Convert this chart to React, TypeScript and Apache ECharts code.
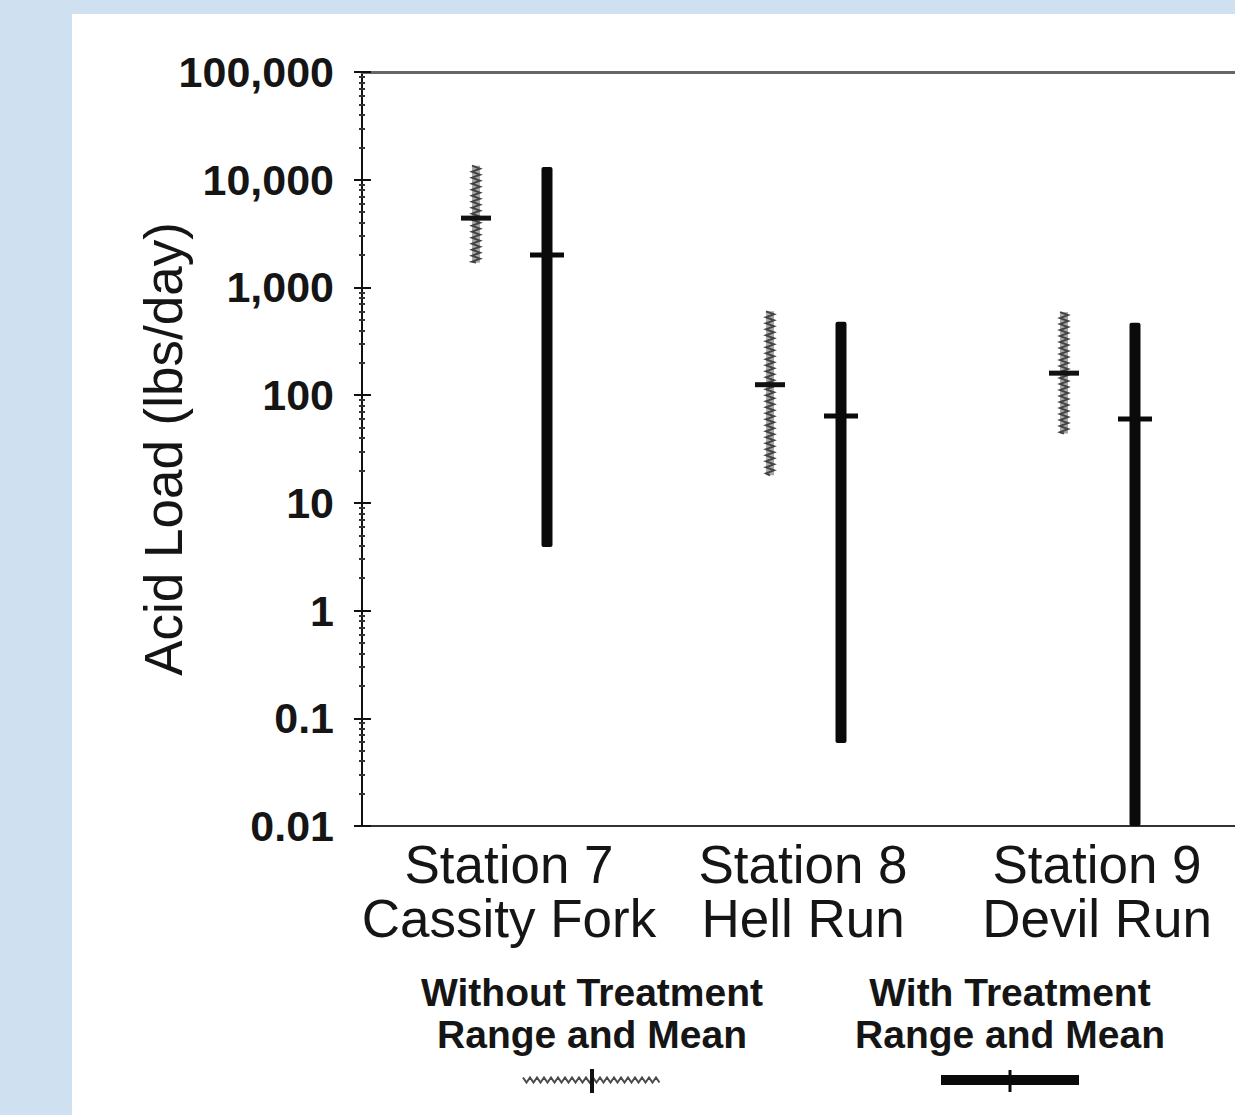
import React, { useEffect, useRef } from "react";
import * as echarts from "echarts";

// ---- data ----
const stations = ["Station 7", "Station 8", "Station 9"];
const streams = ["Cassity Fork", "Hell Run", "Devil Run"];
// [low, high, mean] in lbs/day
const withoutLow = [1700, 18, 44];
const withoutHigh = [13500, 600, 590];
const withoutMean = [4400, 125, 160];
const withLow = [3.9, 0.059, 0.01];
const withHigh = [13100, 480, 470];
const withMean = [2000, 64, 60];
const yTickLabels = ["0.01", "0.1", "1", "10", "100", "1,000", "10,000", "100,000"];
const yMin = 0.01;
const yMax = 100000;

const FONT = "'Liberation Sans', Arial, Helvetica, sans-serif";

function zigzagV(x: number, y1: number, y2: number, amp: number, step: number) {
  const pts: number[][] = [];
  const top = Math.min(y1, y2);
  const bot = Math.max(y1, y2);
  let i = 0;
  for (let y = top; y <= bot; y += step) {
    pts.push([x + (i % 2 === 0 ? -amp : amp), y]);
    i++;
  }
  pts.push([x, bot]);
  return pts;
}

function zigzagH(x1: number, x2: number, y: number, amp: number, step: number) {
  const pts: number[][] = [];
  let i = 0;
  for (let x = x1; x <= x2; x += step) {
    pts.push([x, y + (i % 2 === 0 ? -amp : amp)]);
    i++;
  }
  return pts;
}

export default function App() {
  const ref = useRef<HTMLDivElement>(null);

  useEffect(() => {
    if (!ref.current) return;
    const chart = echarts.init(ref.current, null, { renderer: "svg" });
    const categories = stations.map((s, i) => s + "\n" + streams[i]);

    const withoutData = stations.map((_, i) => [i, withoutLow[i], withoutHigh[i], withoutMean[i]]);
    const withData = stations.map((_, i) => [i, withLow[i], withHigh[i], withMean[i]]);

    const option: any = {
      animation: false,
      grid: { left: 362, top: 72, width: 882, height: 754, containLabel: false },
      xAxis: [
        {
          type: "category",
          data: categories,
          position: "bottom",
          boundaryGap: true,
          axisLine: { lineStyle: { color: "#333", width: 2 } },
          axisTick: { interval: 0, alignWithLabel: true, length: 12, lineStyle: { color: "#111", width: 3 } },
          axisLabel: {
            interval: 0,
            hideOverlap: false,
            fontFamily: FONT,
            fontSize: 53,
            lineHeight: 54,
            color: "#151515",
            margin: 11,
          },
          splitLine: { show: false },
        },
        {
          type: "category",
          data: categories,
          position: "top",
          axisLine: { lineStyle: { color: "#666", width: 3 } },
          axisTick: { show: false },
          axisLabel: { show: false },
          splitLine: { show: false },
        },
      ],
      yAxis: [
        {
          type: "log",
          logBase: 10,
          min: yMin,
          max: yMax,
          position: "left",
          name: "Acid Load (lbs/day)",
          nameLocation: "middle",
          nameGap: 172,
          nameMoveOverlap: false,
          nameTextStyle: { fontFamily: FONT, fontSize: 53, color: "#151515" },
          axisLine: { show: true, lineStyle: { color: "#111", width: 2 } },
          axisTick: { show: true, length: 8, lineStyle: { color: "#111", width: 2 } },
          minorTick: { show: true, splitNumber: 9, length: 3, lineStyle: { color: "#333", width: 2 } },
          axisLabel: {
            fontFamily: FONT,
            fontSize: 43,
            fontWeight: "bold",
            color: "#151515",
            margin: 28,
            formatter: (v: number) => {
              const idx = Math.round(Math.log10(v)) + 2;
              return yTickLabels[idx] ?? "";
            },
          },
          splitLine: { show: false },
        },
        {
          type: "log",
          logBase: 10,
          min: yMin,
          max: yMax,
          position: "left",
          axisLine: { show: false },
          axisTick: { show: true, inside: true, length: 9, lineStyle: { color: "#111", width: 2 } },
          minorTick: { show: true, splitNumber: 9, length: 3, lineStyle: { color: "#333", width: 2 } },
          axisLabel: { show: false },
          splitLine: { show: false },
        },
      ],
      series: [
        {
          name: "Without Treatment",
          type: "custom",
          xAxisIndex: 0,
          yAxisIndex: 0,
          encode: { x: 0, y: [1, 2, 3] },
          data: withoutData,
          renderItem: (params: any, api: any) => {
            const c = api.value(0);
            const lo = api.coord([c, api.value(1)]);
            const hi = api.coord([c, api.value(2)]);
            const mn = api.coord([c, api.value(3)]);
            const x = lo[0] - 33;
            return {
              type: "group",
              children: [
                {
                  type: "rect",
                  shape: { x: x - 4, y: hi[1], width: 8, height: lo[1] - hi[1] },
                  style: { fill: "#a8a8a8" },
                },
                {
                  type: "polyline",
                  shape: { points: zigzagV(x, hi[1], lo[1], 4, 3) },
                  style: { stroke: "#444", lineWidth: 2, fill: "none" },
                },
                {
                  type: "line",
                  shape: { x1: x - 15, y1: mn[1], x2: x + 15, y2: mn[1] },
                  style: { stroke: "#111", lineWidth: 5 },
                },
              ],
            };
          },
        },
        {
          name: "With Treatment",
          type: "custom",
          xAxisIndex: 0,
          yAxisIndex: 0,
          encode: { x: 0, y: [1, 2, 3] },
          data: withData,
          renderItem: (params: any, api: any) => {
            const c = api.value(0);
            const lo = api.coord([c, api.value(1)]);
            const hi = api.coord([c, api.value(2)]);
            const mn = api.coord([c, api.value(3)]);
            const x = lo[0] + 38;
            return {
              type: "group",
              children: [
                {
                  type: "rect",
                  shape: { x: x - 5.5, y: hi[1], width: 11, height: lo[1] - hi[1], r: 2 },
                  style: { fill: "#0a0a0a" },
                },
                {
                  type: "line",
                  shape: { x1: x - 17, y1: mn[1], x2: x + 17, y2: mn[1] },
                  style: { stroke: "#0a0a0a", lineWidth: 5 },
                },
              ],
            };
          },
        },
      ],
      graphic: [
        {
          type: "text",
          x: 592,
          y: 971,
          style: {
            text: "Without Treatment\nRange and Mean",
            fontFamily: FONT,
            fontSize: 39,
            fontWeight: "bold",
            lineHeight: 42,
            fill: "#151515",
            textAlign: "center",
          },
        },
        {
          type: "polyline",
          shape: { points: zigzagH(523, 662, 1080, 2.5, 3.5) },
          style: { stroke: "#4a4a4a", lineWidth: 2, fill: "none" },
        },
        {
          type: "line",
          shape: { x1: 592, y1: 1069, x2: 592, y2: 1093 },
          style: { stroke: "#111", lineWidth: 4 },
        },
        {
          type: "text",
          x: 1010,
          y: 971,
          style: {
            text: "With Treatment\nRange and Mean",
            fontFamily: FONT,
            fontSize: 39,
            fontWeight: "bold",
            lineHeight: 42,
            fill: "#151515",
            textAlign: "center",
          },
        },
        {
          type: "line",
          shape: { x1: 941, y1: 1080, x2: 1079, y2: 1080 },
          style: { stroke: "#0a0a0a", lineWidth: 10 },
        },
        {
          type: "line",
          shape: { x1: 1010, y1: 1070, x2: 1010, y2: 1092 },
          style: { stroke: "#0a0a0a", lineWidth: 3 },
        },
      ],
    };

    chart.setOption(option);
    return () => chart.dispose();
  }, []);

  return (
    <div
      style={{
        position: "fixed",
        left: 0,
        top: 0,
        width: 1235,
        height: 1115,
        background: "#cfe0f1",
        overflow: "hidden",
      }}
    >
      <div
        style={{
          position: "absolute",
          left: 72,
          top: 14,
          right: 0,
          bottom: 0,
          background: "#ffffff",
        }}
      />
      <div ref={ref} style={{ position: "absolute", left: 0, top: 0, width: 1300, height: 1115 }} />
    </div>
  );
}
